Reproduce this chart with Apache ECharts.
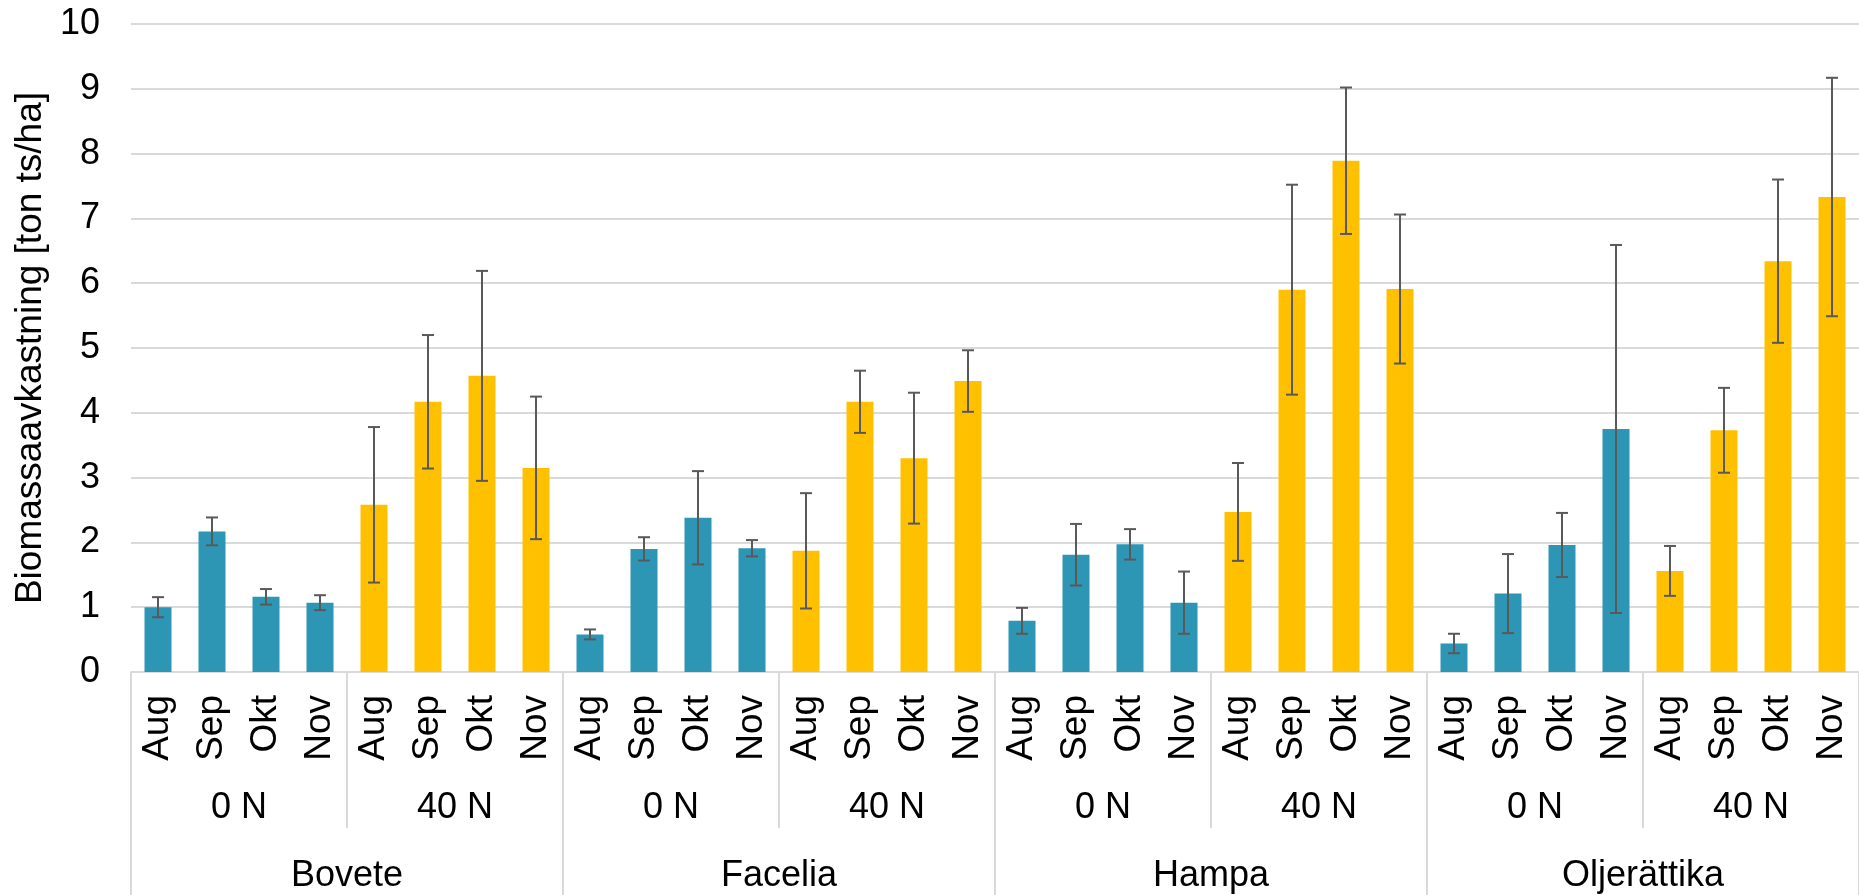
<!DOCTYPE html>
<html>
<head>
<meta charset="utf-8">
<script src="https://cdn.jsdelivr.net/npm/echarts@6/dist/echarts.min.js"></script>
<style>
html,body{margin:0;padding:0;background:#fff;}
#chart{width:1859px;height:895px;}
</style>
</head>
<body>
<div id="chart"></div>
<script>
// ---- data ----
const crops = ['Bovete', 'Facelia', 'Hampa', 'Oljerättika'];
const nLevels = ['0 N', '40 N'];
const months = ['Aug', 'Sep', 'Okt', 'Nov'];
const yMin = 0, yMax = 10, yStep = 1;

// mean biomass (ton ts/ha), months Aug..Nov
const bovete0N = [1.00, 2.17, 1.16, 1.07];
const bovete40N = [2.58, 4.17, 4.57, 3.15];
const facelia0N = [0.58, 1.90, 2.38, 1.91];
const facelia40N = [1.87, 4.17, 3.30, 4.49];
const hampa0N = [0.79, 1.81, 1.97, 1.07];
const hampa40N = [2.47, 5.90, 7.89, 5.91];
const olje0N = [0.44, 1.21, 1.96, 3.75];
const olje40N = [1.56, 3.73, 6.34, 7.33];

// error bar half-lengths
const bovete0NErr = [0.155, 0.215, 0.12, 0.115];
const bovete40NErr = [1.20, 1.03, 1.62, 1.10];
const facelia0NErr = [0.077, 0.18, 0.72, 0.126];
const facelia40NErr = [0.89, 0.48, 1.01, 0.475];
const hampa0NErr = [0.20, 0.475, 0.235, 0.48];
const hampa40NErr = [0.755, 1.62, 1.13, 1.15];
const olje0NErr = [0.15, 0.61, 0.495, 2.84];
const olje40NErr = [0.385, 0.655, 1.26, 1.84];

const nColors = ['#2E96B5', '#FFC000'];

// ---- build ----
const meanGroups = [bovete0N, bovete40N, facelia0N, facelia40N, hampa0N, hampa40N, olje0N, olje40N];
const errGroups = [bovete0NErr, bovete40NErr, facelia0NErr, facelia40NErr, hampa0NErr, hampa40NErr, olje0NErr, olje40NErr];

const monthCats = [];
const nCats = [];
const barData = [];
const errData = [];
meanGroups.forEach((g, gi) => {
  const nIdx = gi % 2;
  nCats.push(nLevels[nIdx]);
  g.forEach((v, mi) => {
    const idx = monthCats.length;
    monthCats.push(months[mi]);
    barData.push({ value: v, itemStyle: { color: nColors[nIdx] } });
    const e = errGroups[gi][mi];
    errData.push([idx, v - e, v + e]);
  });
});

const FONT = 'Liberation Sans, Arial, sans-serif';
const GRID_LINE = '#D9D9D9';
const labelBase = { fontSize: 36, color: '#000', fontFamily: FONT, interval: 0 };

const chart = echarts.init(document.getElementById('chart'), null, { renderer: 'canvas' });
chart.setOption({
  animation: false,
  backgroundColor: '#fff',
  grid: { left: 131, top: 24, width: 1733, height: 648, containLabel: false },
  xAxis: [
    {
      type: 'category', data: monthCats, position: 'bottom',
      axisLine: { show: true, lineStyle: { color: GRID_LINE, width: 2 } },
      axisTick: { show: false },
      axisLabel: Object.assign({}, labelBase, { rotate: 90, margin: 23, fontSize: 37 })
    },
    {
      type: 'category', data: nCats, position: 'bottom',
      axisLine: { show: false },
      axisTick: { show: true, interval: 0, length: 156, lineStyle: { color: GRID_LINE, width: 2 } },
      axisLabel: Object.assign({}, labelBase, { margin: 118 })
    },
    {
      type: 'category', data: crops, position: 'bottom',
      axisLine: { show: false },
      axisTick: { show: true, interval: 0, length: 230, lineStyle: { color: GRID_LINE, width: 2 } },
      axisLabel: Object.assign({}, labelBase, { margin: 186 })
    }
  ],
  yAxis: {
    type: 'value', min: yMin, max: yMax, interval: yStep,
    axisLine: { show: false },
    axisTick: { show: false },
    splitLine: { show: true, lineStyle: { color: GRID_LINE, width: 2 } },
    axisLabel: { fontSize: 36, color: '#000', fontFamily: FONT, margin: 31 },
    name: 'Biomassaavkastning [ton ts/ha]',
    nameLocation: 'middle',
    nameGap: 82,
    nameTextStyle: { fontSize: 37, color: '#000', fontFamily: FONT }
  },
  series: [
    {
      type: 'bar',
      xAxisIndex: 0,
      data: barData,
      barWidth: '50%',
      z: 2
    },
    {
      type: 'custom',
      xAxisIndex: 0,
      data: errData,
      encode: { x: 0, y: [1, 2] },
      z: 5,
      renderItem: function (params, api) {
        const x = api.value(0);
        const lo = api.coord([x, api.value(1)]);
        const hi = api.coord([x, api.value(2)]);
        const hw = 6;
        const style = { stroke: '#595959', lineWidth: 2, fill: null };
        return {
          type: 'group',
          children: [
            { type: 'line', shape: { x1: hi[0], y1: hi[1], x2: lo[0], y2: lo[1] }, style: style },
            { type: 'line', shape: { x1: hi[0] - hw, y1: hi[1], x2: hi[0] + hw, y2: hi[1] }, style: style },
            { type: 'line', shape: { x1: lo[0] - hw, y1: lo[1], x2: lo[0] + hw, y2: lo[1] }, style: style }
          ]
        };
      }
    }
  ]
});
</script>
</body>
</html>
